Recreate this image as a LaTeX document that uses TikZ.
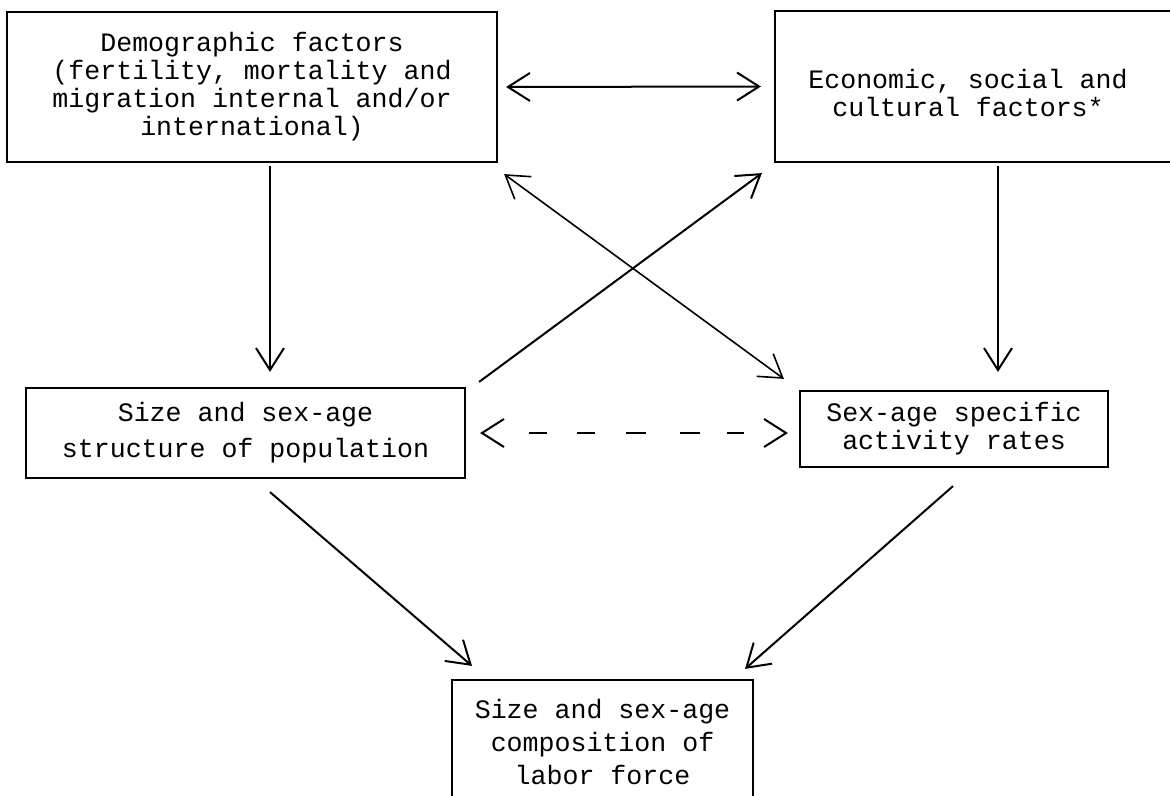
\documentclass[tikz,border=0pt]{standalone}
\usepackage{fontspec}
\setmonofont{Liberation Mono}
\usetikzlibrary{arrows.meta,calc}
\begin{document}
\begin{tikzpicture}[x=0.5pt,y=-0.5pt,
  barb/.tip={Straight Barb[length=11pt,width=14pt]},
  box/.style={draw, line width=1.1pt, inner sep=0pt, align=center,
    font=\ttfamily\fontsize{13.3pt}{14pt}\selectfont},
  txt/.style={inner sep=0pt, align=center,
    font=\ttfamily\fontsize{13.3pt}{14pt}\selectfont},
  arr/.style={line width=1pt, -barb},
  arrboth/.style={line width=1pt, barb-barb}
]
\useasboundingbox (0,0) rectangle (1170,796);
\clip (0,0) rectangle (1170,796);

\node[box, minimum width=245pt, minimum height=75pt] (demo) at (252,87)
  {Demographic factors\\(fertility, mortality and\\migration internal and/or\\international)};
\node[box, minimum width=207.5pt, minimum height=75.5pt] (econ) at (982.5,86.5) {};
\node[txt] (econtxt) at (968,93) {Economic, social and\\cultural factors*};
\node[box, minimum width=219.5pt, minimum height=45pt,
  font=\ttfamily\fontsize{13.3pt}{18pt}\selectfont] (pop) at (245.5,433)
  {Size and sex-age\\structure of population};
\node[box, minimum width=154pt, minimum height=38pt] (act) at (954,429)
  {Sex-age specific\\activity rates};
\node[box, minimum width=150.5pt, minimum height=62pt,
  font=\ttfamily\fontsize{13.3pt}{16.5pt}\selectfont] (lab) at (602.5,742)
  {Size and sex-age\\composition of\\labor force};

\draw[arrboth] ($(demo.east)+(8,0)$) -- ($(econ.west)+(-13,0)$);
\draw[arr] ($(demo.south)+(18,3)$) -- ($(pop.north)+(24.5,-15)$);
\draw[arr] ($(econ.south)+(15.5,3)$) -- ($(act.north)+(44,-18)$);
\draw[arr] ($(pop.north east)+(13,-5)$) -- ($(econ.south west)+(-12,10)$);
\draw[arrboth, line width=0.8pt] ($(demo.south east)+(6,11)$) -- ($(act.north west)+(-15,-11)$);
\draw[arrboth, dash pattern=on 0pt off 23pt on 9pt off 15pt on 9pt off 15.5pt on 10pt off 17pt on 10pt off 13.5pt on 8.5pt off 60pt]
  ($(pop.east)+(14,0)$) -- ($(act.west |- pop.east)+(-11,0)$);
\draw[arr] ($(pop.south)+(24.5,13)$) -- ($(lab.north)+(-130.5,-13)$);
\draw[arr] ($(act.south)+(-1,18)$) -- ($(lab.north)+(142.5,-10)$);
\end{tikzpicture}
\end{document}
